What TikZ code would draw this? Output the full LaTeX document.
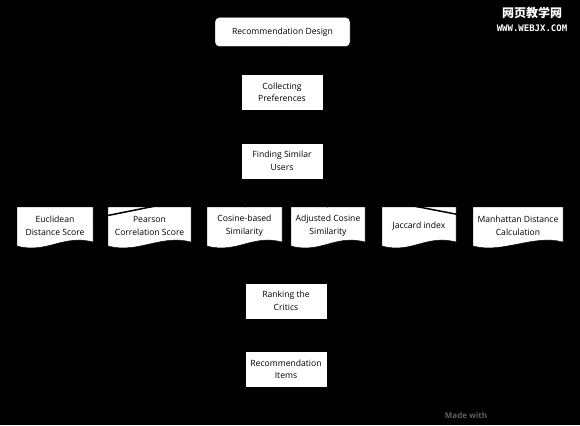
\documentclass[tikz,border=0pt]{standalone}
\usepackage{fontspec}
\setmainfont{Open Sans}
\newfontfamily\cjkfont{Noto Sans CJK SC}
\newfontfamily\wmfont{DejaVu Sans Mono}
\usetikzlibrary{calc}
\tikzset{
  stepbox/.style={draw=black, fill=white, align=center, minimum width=82pt, minimum height=36pt, inner sep=1pt},
  startbox/.style={stepbox, rounded corners=4pt, minimum width=135pt, minimum height=29pt},
  docnode/.style={align=center, inner sep=0pt, minimum height=38pt},
  link/.style={draw=black, line width=1.5pt, line cap=butt},
}
% wavy document box: name, left x, right x, text
\newcommand{\docbox}[4]{%
  \filldraw[fill=white, draw=black] (#2,207) -- (#3,207) -- (#3,242)
    .. controls +(-30,-8) and +(30,8) .. (#2,246) -- cycle;
  \pgfmathsetmacro{\docw}{#3-#2}
  \node[docnode, minimum width=\docw pt] (#1) at ({(#2+#3)/2},226) {#4};
}
\begin{document}
\begin{tikzpicture}[x=1pt, y=-1pt, font=\fontsize{8.6}{12.5}\selectfont, line join=round, line cap=round, >=stealth]
  \fill[black] (0,0) rectangle (580,425);
  \useasboundingbox (0,0) rectangle (580,425);
  \node[startbox] (start) at (282.5,32) {Recommendation Design};
  \node[stepbox] (collect) at (282,92.5) {Collecting\\Preferences};
  \node[stepbox] (find) at (282,161) {Finding Similar\\Users};
  \docbox{eucl}{17}{93}{Euclidean\\Distance Score}
  \docbox{pear}{108}{191}{Pearson\\Correlation Score}
  \docbox{cosb}{207}{282}{Cosine-based\\Similarity}
  \docbox{adjc}{291}{365}{Adjusted Cosine\\Similarity}
  \docbox{jacc}{382}{456}{Jaccard index}
  \docbox{manh}{473}{563}{Manhattan Distance\\Calculation}
  \node[stepbox] (rank) at (286,301) {Ranking the\\Critics};
  \node[stepbox] (items) at (286,369.5) {Recommendation\\Items};
  % connectors (black on black)
  \coordinate (fout) at ($(find.south)+(0,1.5)$);
  \draw[link] (start)--(collect);
  \draw[link] (collect)--(find);
  \foreach \d in {pear,cosb,adjc,jacc}
    \draw[link] (fout)--(\d.north);
  \draw[link] (fout)--(eucl);
  \draw[link] (fout)--(manh);
  \foreach \d in {eucl,pear,cosb,adjc,jacc,manh}
    \draw[link] (\d.south)--(rank.north);
  \draw[link] (rank)--(items);
  % watermark and footer
  \node[text=white, font=\cjkfont\bfseries\fontsize{12}{12}\selectfont] (wmcn) at (532,13) {网页教学网};
  \node[text=white, font=\wmfont\bfseries\fontsize{9}{9}\selectfont] (wmen) at (532,28) {WWW.WEBJX.COM};
  \node[text=gray!75!black, font=\bfseries\fontsize{8}{9}\selectfont] (made) at (466,415) {Made with};
\end{tikzpicture}
\end{document}
